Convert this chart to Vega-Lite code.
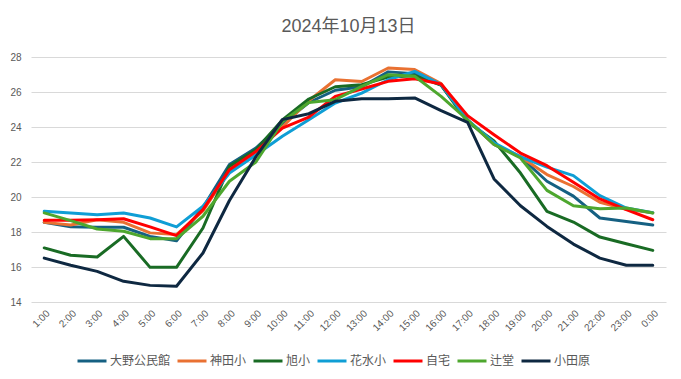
{
  "$schema": "https://vega.github.io/schema/vega-lite/v6.json",
  "width": 635,
  "height": 245,
  "autosize": "none",
  "padding": {"left": 31, "top": 57, "right": 15, "bottom": 77},
  "background": "white",
  "title": {
    "text": "2024年10月13日",
    "fontSize": 18,
    "font": "Liberation Sans, Noto Sans CJK JP",
    "fontWeight": "normal",
    "color": "#595959",
    "anchor": "middle",
    "offset": 16
  },
  "data": {
    "values": [
      {"t":"1:00","大野公民館":18.55,"神田小":18.55,"旭小":17.09,"花水小":19.18,"自宅":18.67,"辻堂":19.09,"小田原":16.51},
      {"t":"2:00","大野公民館":18.3,"神田小":18.4,"旭小":16.67,"花水小":19.09,"自宅":18.67,"辻堂":18.65,"小田原":16.1},
      {"t":"3:00","大野公民館":18.27,"神田小":18.7,"旭小":16.57,"花水小":18.99,"自宅":18.7,"辻堂":18.17,"小田原":15.75},
      {"t":"4:00","大野公民館":18.27,"神田小":18.55,"旭小":17.75,"花水小":19.09,"自宅":18.76,"辻堂":18.04,"小田原":15.18},
      {"t":"5:00","大野公民館":17.75,"神田小":17.95,"旭小":15.98,"花水小":18.8,"自宅":18.29,"辻堂":17.62,"小田原":14.95},
      {"t":"6:00","大野公民館":17.5,"神田小":17.85,"旭小":15.98,"花水小":18.29,"自宅":17.79,"辻堂":17.62,"小田原":14.9},
      {"t":"7:00","大野公民館":19.4,"神田小":19.2,"旭小":18.23,"花水小":19.47,"自宅":19.28,"辻堂":18.9,"小田原":16.8},
      {"t":"8:00","大野公民館":21.85,"神田小":21.5,"旭小":21.75,"花水小":21.37,"自宅":21.56,"辻堂":20.9,"小田原":19.8},
      {"t":"9:00","大野公民館":22.8,"神田小":22.6,"旭小":22.7,"花水小":22.4,"自宅":22.6,"辻堂":22.0,"小田原":22.3},
      {"t":"10:00","大野公民館":24.2,"神田小":24.0,"旭小":24.4,"花水小":23.47,"自宅":23.94,"辻堂":24.3,"小田原":24.42},
      {"t":"11:00","大野公民館":25.4,"神田小":25.5,"旭小":25.6,"花水小":24.42,"自宅":24.57,"辻堂":25.4,"小田原":24.76},
      {"t":"12:00","大野公民館":26.1,"神田小":26.7,"旭小":26.3,"花水小":25.37,"自宅":25.75,"辻堂":25.56,"小田原":25.47},
      {"t":"13:00","大野公民館":26.3,"神田小":26.6,"旭小":26.42,"花水小":25.94,"自宅":26.17,"辻堂":26.32,"小田原":25.62},
      {"t":"14:00","大野公民館":27.15,"神田小":27.37,"旭小":26.86,"花水小":26.7,"自宅":26.61,"辻堂":26.99,"小田原":25.62},
      {"t":"15:00","大野公民館":27.05,"神田小":27.28,"旭小":26.93,"花水小":27.18,"自宅":26.76,"辻堂":26.9,"小田原":25.66},
      {"t":"16:00","大野公民館":26.4,"神田小":26.48,"旭小":26.4,"花水小":26.42,"自宅":26.46,"辻堂":25.75,"小田原":24.93},
      {"t":"17:00","大野公民館":24.4,"神田小":24.4,"旭小":24.3,"花水小":24.4,"自宅":24.65,"辻堂":24.4,"小田原":24.27},
      {"t":"18:00","大野公民館":23.0,"神田小":23.0,"旭小":23.2,"花水小":23.1,"自宅":23.56,"辻堂":23.0,"小田原":21.03},
      {"t":"19:00","大野公民館":22.3,"神田小":22.3,"旭小":21.37,"花水小":22.3,"自宅":22.51,"辻堂":22.23,"小田原":19.5},
      {"t":"20:00","大野公民館":20.9,"神田小":21.28,"旭小":19.18,"花水小":21.71,"自宅":21.79,"辻堂":20.38,"小田原":18.32},
      {"t":"21:00","大野公民館":20.05,"神田小":20.6,"旭小":18.57,"花水小":21.22,"自宅":20.84,"辻堂":19.5,"小田原":17.31},
      {"t":"22:00","大野公民館":18.8,"神田小":19.7,"旭小":17.71,"花水小":20.08,"自宅":19.89,"辻堂":19.33,"小田原":16.51},
      {"t":"23:00","大野公民館":18.6,"神田小":19.3,"旭小":17.33,"花水小":19.37,"自宅":19.28,"辻堂":19.37,"小田原":16.1},
      {"t":"0:00","大野公民館":18.4,"神田小":19.1,"旭小":16.95,"花水小":19.1,"自宅":18.7,"辻堂":19.09,"小田原":16.1}
    ]
  },
  "transform": [
    {"fold": ["大野公民館","神田小","旭小","花水小","自宅","辻堂","小田原"], "as": ["site","temp"]}
  ],
  "mark": {"type": "line", "strokeWidth": 3, "strokeJoin": "round", "strokeCap": "round"},
  "encoding": {
    "x": {
      "field": "t", "type": "ordinal", "sort": null,
      "scale": {"type": "point", "padding": 0.5},
      "axis": {
        "title": null, "labelAngle": -45, "labelFontSize": 10, "labelColor": "#595959",
        "labelFont": "Liberation Sans", "ticks": false, "domain": false, "grid": false,
        "labelPadding": 6
      }
    },
    "y": {
      "field": "temp", "type": "quantitative",
      "scale": {"domain": [14, 28], "nice": false, "zero": false},
      "axis": {
        "title": null, "values": [14,16,18,20,22,24,26,28], "labelFontSize": 10, "labelColor": "#595959",
        "labelFont": "Liberation Sans", "ticks": false, "domain": false,
        "gridColor": "#d9d9d9", "gridWidth": 1, "labelPadding": 10
      }
    },
    "color": {
      "field": "site", "type": "nominal",
      "scale": {
        "domain": ["大野公民館","神田小","旭小","花水小","自宅","辻堂","小田原"],
        "range": ["#156082","#E97132","#196B24","#0F9ED5","#FF0000","#4EA72E","#0E2841"]
      },
      "legend": {
        "title": null, "orient": "none", "legendX": 45, "legendY": 288, "padding": 0,
        "direction": "horizontal",
        "symbolType": "stroke", "symbolStrokeWidth": 3, "symbolSize": 841,
        "labelFontSize": 12, "labelColor": "#595959", "labelFont": "Noto Sans CJK JP",
        "columnPadding": 0, "labelOffset": 2
      }
    },
    "order": {"field": "site", "sort": "ascending"}
  },
  "config": {
    "view": {"stroke": null}
  }
}
